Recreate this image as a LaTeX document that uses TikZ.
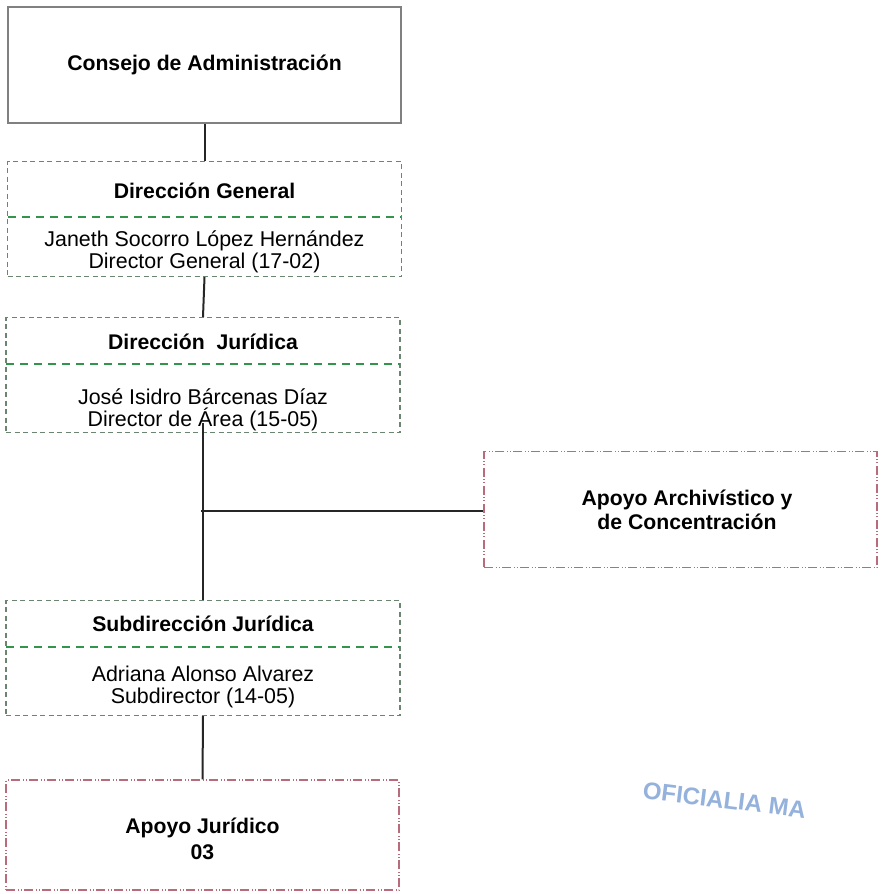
\documentclass[tikz,border=0pt]{standalone}
\usepackage{fontspec}
\setmainfont{Liberation Sans}
\begin{document}
\begin{tikzpicture}[x=1pt,y=-1pt,
  solidbox/.style={draw=black!50,line width=1.2pt,minimum width=393pt,minimum height=116pt,inner sep=0pt},
  greenbox/.style={draw={rgb,1:red,0.42;green,0.52;blue,0.44},line width=1.1pt,dash pattern=on 5pt off 3.5pt,minimum width=394pt,minimum height=115pt,inner sep=0pt},
  greendiv/.style={draw={rgb,1:red,0.2;green,0.58;blue,0.3},line width=1.2pt,dash pattern=on 8pt off 6pt},
  redbox/.style={draw={rgb,1:red,0.72;green,0.42;blue,0.48},line width=1.1pt,dash pattern=on 9pt off 2.5pt on 1pt off 2pt on 1pt off 2.5pt,minimum width=393pt,minimum height=116pt,inner sep=0pt},
  titletxt/.style={font=\fontsize{21.2}{24}\selectfont\bfseries,align=center,inner sep=0pt},
  nametxt/.style={font=\fontsize{21.4}{22}\selectfont,align=center,inner sep=0pt},
  conn/.style={draw=black!85,line width=2pt}]
\useasboundingbox (0,0) rectangle (881,894);
\fill[white] (0,0) rectangle (881,894);

% Consejo
\node[solidbox] (cons) at (204.5,65) {};
\node[titletxt] (consT) at (204.5,65) {Consejo de Administración};

% Direccion General
\node[greenbox] (dg) at (204.5,219) {};
\draw[greendiv] (8,217) -- (401,217);
\node[titletxt] (dgT) at (204.5,191) {Dirección General};
\node[nametxt] (dgN) at (204.5,252) {Janeth Socorro López Hernández\\Director General (17-02)};

% Direccion Juridica
\node[greenbox] (dj) at (203,375) {};
\draw[greendiv] (6,364) -- (400,364);
\node[titletxt] (djT) at (203,342) {Dirección\ \ Jurídica};
\node[nametxt] (djN) at (203,410) {José Isidro Bárcenas Díaz\\Director de Área (15-05)};

% Apoyo Archivistico
\node[redbox] (aa) at (680.5,509.5) {};
\node[titletxt] (aaT) at (687,510) {Apoyo Archivístico y\\de Concentración};

% Subdireccion Juridica
\node[greenbox] (sj) at (203,658) {};
\draw[greendiv] (6,647) -- (400,647);
\node[titletxt] (sjT) at (203,624) {Subdirección Jurídica};
\node[nametxt] (sjN) at (203,687) {Adriana Alonso Alvarez\\Subdirector (14-05)};

% Apoyo Juridico
\node[redbox,minimum height=110pt] (aj) at (202.5,835) {};
\node[titletxt,font=\fontsize{21.2}{26}\selectfont\bfseries] (ajT) at (202.5,839) {Apoyo Jurídico\\03};

% connectors
\draw[conn] (cons.south) -- (dg.north);
\draw[conn] (dg.south) -- (dj.north);
\draw[conn] ([yshift=10pt]dj.south) -- (sj.north);
\coordinate (br) at (201,511);
\draw[conn] (br) -- (aa.west |- br);
\draw[conn] (sj.south) -- (aj.north);

% stamp
\node[font=\fontsize{24}{24}\selectfont\bfseries,text={rgb,1:red,0.58;green,0.7;blue,0.86},rotate=-7,anchor=west,inner sep=0pt] (stamp) at (643,790) {OFICIALIA MA};
\end{tikzpicture}
\end{document}
